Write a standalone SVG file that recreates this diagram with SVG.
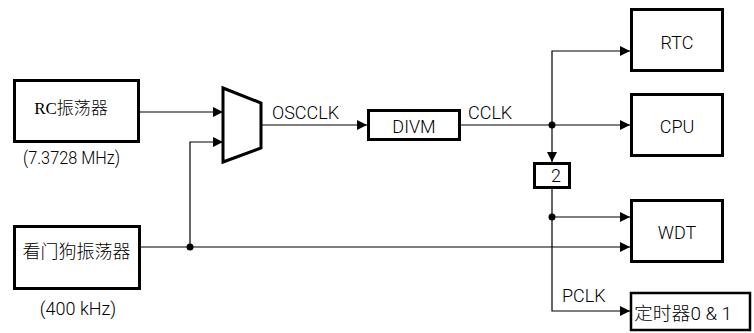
<svg xmlns="http://www.w3.org/2000/svg" width="754" height="333" viewBox="0 0 754 333">
<style>
  .box { fill: #fff; stroke: #000; stroke-width: 3; }
  .wire { fill: none; stroke: #000; stroke-width: 1.2; }
  .lbl { font-family: Roboto, "Liberation Sans", "Noto Sans CJK SC", sans-serif; font-size: 18px; font-weight: 300; fill: #000; }
  .cjk { font-family: "Noto Sans CJK SC", sans-serif; font-size: 18px; font-weight: 300; fill: #000; }
  .ser { font-family: "Liberation Serif", "Noto Sans CJK SC", serif; font-size: 17px; font-weight: 300; fill: #000; }
  .dot { fill: #000; }
</style>
<defs>
  <marker id="arr" markerUnits="userSpaceOnUse" markerWidth="10" markerHeight="10" refX="10" refY="5" orient="auto">
    <path d="M0,0 L10,5 L0,10 z" fill="#000"/>
  </marker>
</defs>
<g id="connectors">
  <path class="wire" d="M140,112 H223" marker-end="url(#arr)"/>
  <path class="wire" d="M261,125 H367" marker-end="url(#arr)"/>
  <path class="wire" d="M461,125 H630" marker-end="url(#arr)"/>
  <path class="wire" d="M552,125 V51 H630" marker-end="url(#arr)"/>
  <path class="wire" d="M552,125 V162" marker-end="url(#arr)"/>
  <path class="wire" d="M552,189 V311 H630" marker-end="url(#arr)"/>
  <path class="wire" d="M552,217 H630" marker-end="url(#arr)"/>
  <path class="wire" d="M141,247 H630" marker-end="url(#arr)"/>
  <path class="wire" d="M190,247 V142 H223" marker-end="url(#arr)"/>
  <circle class="dot" cx="552" cy="125" r="3.5"/>
  <circle class="dot" cx="552" cy="217" r="3.5"/>
  <circle class="dot" cx="190" cy="247" r="3.5"/>
  <text class="lbl" x="272" y="118.5">OSCCLK</text>
  <text class="lbl" x="468" y="118.5">CCLK</text>
  <text class="lbl" x="562" y="302">PCLK</text>
</g>
<g id="rc-osc">
  <rect class="box" x="14.5" y="80.5" width="124" height="61"/>
  <text class="ser" x="71" y="114" text-anchor="middle">RC振荡器</text>
  <text class="lbl" x="71.5" y="164" text-anchor="middle" textLength="97" lengthAdjust="spacingAndGlyphs">(7.3728 MHz)</text>
</g>
<g id="wd-osc">
  <rect class="box" x="14.5" y="226.5" width="125" height="62"/>
  <text class="cjk" x="76.5" y="258" text-anchor="middle">看门狗振荡器</text>
  <text class="lbl" x="78" y="315" text-anchor="middle">(400 kHz)</text>
</g>
<g id="mux">
  <polygon class="box" points="223,88 261,103 261,148 223,162"/>
</g>
<g id="divm">
  <rect class="box" x="368.5" y="110.5" width="91" height="29"/>
  <text class="lbl" x="414" y="133" text-anchor="middle">DIVM</text>
</g>
<g id="div2">
  <rect class="box" x="534.5" y="163.5" width="35" height="24"/>
  <text class="lbl" x="556" y="182" text-anchor="middle">2</text>
</g>
<g id="rtc">
  <rect class="box" x="631.5" y="9.5" width="91" height="61"/>
  <text class="lbl" x="677" y="48.5" text-anchor="middle">RTC</text>
</g>
<g id="cpu">
  <rect class="box" x="631.5" y="94.5" width="91" height="61"/>
  <text class="lbl" x="677" y="133" text-anchor="middle">CPU</text>
</g>
<g id="wdt">
  <rect class="box" x="631.5" y="200.5" width="91" height="61"/>
  <text class="lbl" x="677" y="239" text-anchor="middle">WDT</text>
</g>
<g id="timer">
  <rect class="box" x="631" y="293" width="119" height="37" style="stroke-width:2.5"/>
  <text class="lbl" x="634" y="320" textLength="98" lengthAdjust="spacingAndGlyphs">定时器0 &amp; 1</text>
</g>
</svg>
